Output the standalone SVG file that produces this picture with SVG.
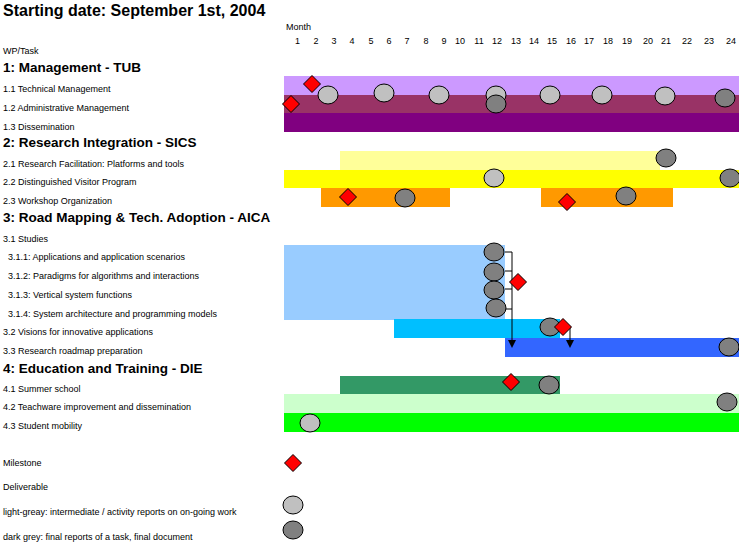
<svg xmlns="http://www.w3.org/2000/svg" width="739" height="544" viewBox="0 0 739 544">
<style>
text{font-family:"Liberation Sans",Arial,sans-serif;fill:#000}
.s{font-size:9px}
.h{font-size:13.5px;font-weight:bold}
.t{font-size:16px;font-weight:bold}
.m{font-size:9px;text-anchor:middle}
.lg{fill:#C0C0C0;stroke:#000;stroke-width:1}
.dg{fill:#808080;stroke:#000;stroke-width:1}
.ms{fill:#FF0000;stroke:#000;stroke-width:1}
.ln{stroke:#000;stroke-width:1;fill:none}
</style>
<defs>
<ellipse id="c" cx="0" cy="0" rx="10" ry="9"/>
<polygon id="d" points="0,-8.5 8.5,0 0,8.5 -8.5,0"/>
<marker id="ar" markerWidth="8" markerHeight="8" refX="4" refY="7" orient="auto" markerUnits="userSpaceOnUse"><polygon points="0,0 8,0 4,8" fill="#000" transform="rotate(-90 4 4)"/></marker>
</defs>
<rect width="739" height="544" fill="#fff"/>
<text class="t" x="3" y="16">Starting date: September 1st, 2004</text>
<text class="s" x="286" y="30">Month</text>
<g id="months">
<text class="m" x="297.5" y="44">1</text><text class="m" x="316" y="44">2</text><text class="m" x="334" y="44">3</text><text class="m" x="352" y="44">4</text><text class="m" x="371" y="44">5</text><text class="m" x="389" y="44">6</text><text class="m" x="407" y="44">7</text><text class="m" x="426" y="44">8</text><text class="m" x="444" y="44">9</text><text class="m" x="460" y="44">10</text><text class="m" x="479" y="44">11</text><text class="m" x="497" y="44">12</text><text class="m" x="516" y="44">13</text><text class="m" x="534" y="44">14</text><text class="m" x="552" y="44">15</text><text class="m" x="571" y="44">16</text><text class="m" x="589" y="44">17</text><text class="m" x="608" y="44">18</text><text class="m" x="627" y="44">19</text><text class="m" x="648" y="44">20</text><text class="m" x="666" y="44">21</text><text class="m" x="687" y="44">22</text><text class="m" x="709" y="44">23</text><text class="m" x="731" y="44">24</text>
</g>
<g id="labels">
<text class="s" x="3" y="54">WP/Task</text>
<text class="h" x="3" y="72">1: Management - TUB</text>
<text class="s" x="3" y="92">1.1 Technical Management</text>
<text class="s" x="3" y="111">1.2 Administrative Management</text>
<text class="s" x="3" y="130">1.3 Dissemination</text>
<text class="h" x="3" y="147">2: Research Integration - SICS</text>
<text class="s" x="3" y="167">2.1 Research Facilitation: Platforms and tools</text>
<text class="s" x="3" y="185">2.2 Distinguished Visitor Program</text>
<text class="s" x="3" y="204">2.3 Workshop Organization</text>
<text class="h" x="3" y="222">3: Road Mapping &amp; Tech. Adoption - AICA</text>
<text class="s" x="3" y="242">3.1 Studies</text>
<text class="s" x="8" y="260">3.1.1: Applications and application scenarios</text>
<text class="s" x="8" y="279">3.1.2: Paradigms for algorithms and interactions</text>
<text class="s" x="8" y="298">3.1.3: Vertical system functions</text>
<text class="s" x="8" y="317">3.1.4: System architecture and programming models</text>
<text class="s" x="3" y="335">3.2 Visions for innovative applications</text>
<text class="s" x="3" y="354">3.3 Research roadmap preparation</text>
<text class="h" x="3" y="373">4: Education and Training - DIE</text>
<text class="s" x="3" y="392">4.1 Summer school</text>
<text class="s" x="3" y="410">4.2 Teachware improvement and dissemination</text>
<text class="s" x="3" y="429">4.3 Student mobility</text>
<text class="s" x="3" y="466">Milestone</text>
<text class="s" x="3" y="490">Deliverable</text>
<text class="s" x="3" y="515">light-greay: intermediate / activity reports on on-going work</text>
<text class="s" x="3" y="540">dark grey: final reports of a task, final document</text>
</g>
<g id="bars">
<rect x="284" y="76" width="455" height="19" fill="#CC99FF"/>
<rect x="284" y="95" width="455" height="18" fill="#993366"/>
<rect x="284" y="113" width="455" height="19" fill="#800080"/>
<rect x="340" y="151" width="320" height="19" fill="#FFFF99"/>
<rect x="284" y="170" width="455" height="18" fill="#FFFF00"/>
<rect x="321" y="188" width="129" height="19" fill="#FF9900"/>
<rect x="541" y="188" width="132" height="19" fill="#FF9900"/>
<rect x="284" y="245" width="221" height="75" fill="#99CCFF"/>
<rect x="394" y="319" width="166" height="19" fill="#00BFFF"/>
<rect x="505" y="338" width="234" height="19" fill="#3366FF"/>
<rect x="340" y="376" width="220" height="19" fill="#339966"/>
<rect x="284" y="394" width="455" height="19" fill="#CCFFCC"/>
<rect x="284" y="413" width="455" height="19" fill="#00FF00"/>
</g>
<g id="connectors">
<path class="ln" d="M505,252H512M505,271H512M505,289H512M505,309H512M512,252V345"/>
<path class="ln" d="M570,327V345"/>
<polygon points="508,340 516,340 512,348" fill="#000"/>
<polygon points="566,340 574,340 570,348" fill="#000"/>
</g>
<g id="marks">
<use href="#c" class="lg" x="328" y="95"/><use href="#c" class="lg" x="384" y="93"/><use href="#c" class="lg" x="439" y="95"/><use href="#c" class="lg" x="496" y="95"/><use href="#c" class="lg" x="550" y="95"/><use href="#c" class="lg" x="602" y="95"/><use href="#c" class="lg" x="665" y="96"/>
<use href="#c" class="dg" x="496" y="104"/><use href="#c" class="dg" x="725" y="98"/>
<use href="#d" class="ms" x="312" y="84"/><use href="#d" class="ms" x="291" y="104"/>
<use href="#c" class="dg" x="666" y="158"/>
<use href="#c" class="lg" x="494" y="178"/><use href="#c" class="dg" x="730" y="178"/>
<use href="#d" class="ms" x="348" y="197"/><use href="#c" class="dg" x="405" y="198"/><use href="#d" class="ms" x="567" y="202"/><use href="#c" class="dg" x="626" y="196"/>
<use href="#c" class="dg" x="494" y="252"/><use href="#c" class="dg" x="494" y="272"/><use href="#c" class="dg" x="494" y="290"/><use href="#c" class="dg" x="496" y="308"/>
<use href="#d" class="ms" x="518" y="282"/>
<use href="#c" class="dg" x="550" y="327"/><use href="#d" class="ms" x="563" y="327"/>
<use href="#c" class="dg" x="729" y="347"/>
<use href="#d" class="ms" x="511" y="382"/><use href="#c" class="dg" x="549" y="385"/>
<use href="#c" class="dg" x="727" y="402"/>
<use href="#c" class="lg" x="310" y="423"/>
<use href="#d" class="ms" x="293" y="463"/>
<use href="#c" class="lg" x="293" y="505"/>
<use href="#c" class="dg" x="293" y="530"/>
</g>
</svg>
